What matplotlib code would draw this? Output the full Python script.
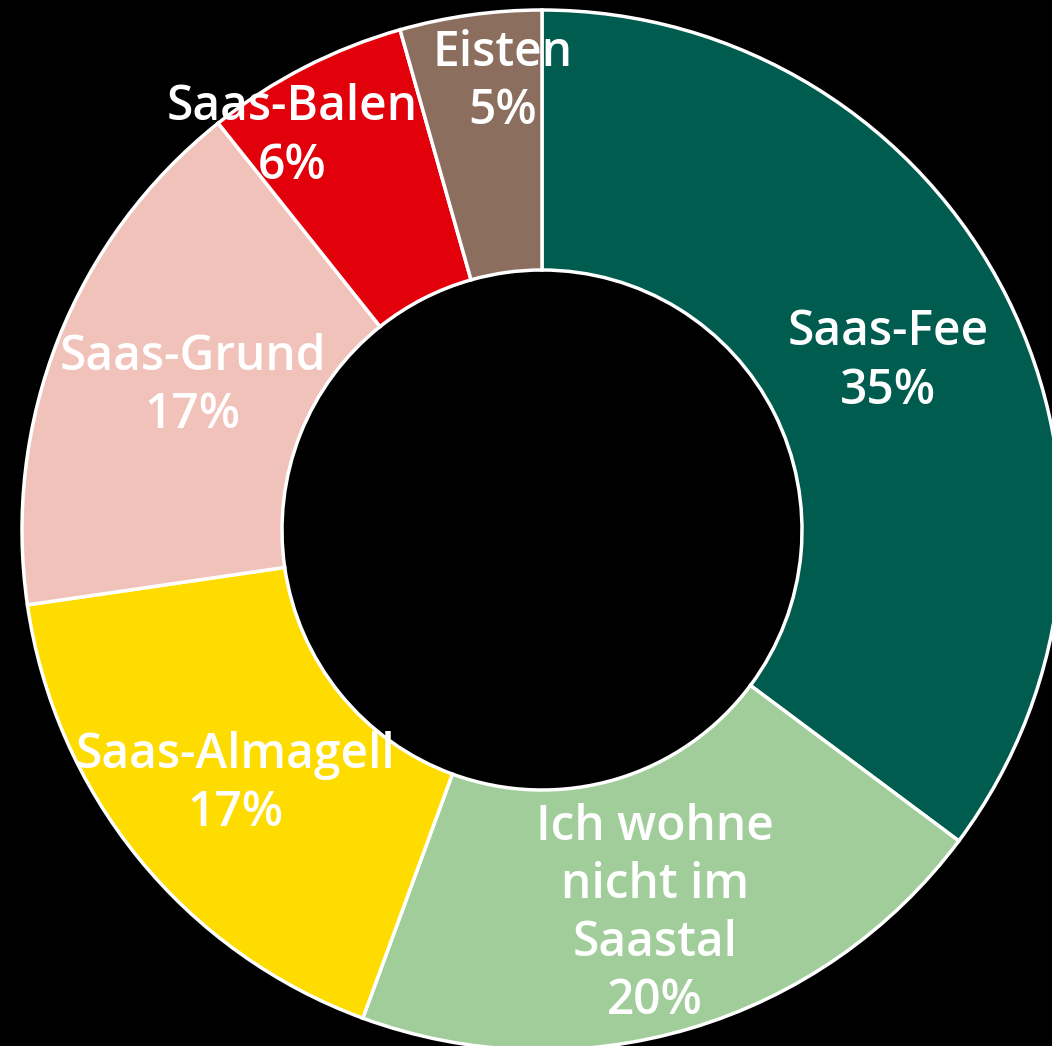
import numpy as np
import matplotlib.pyplot as plt

labels = ["Saas-Fee", "Ich wohne\nnicht im\nSaastal", "Saas-Almagell", "Saas-Grund", "Saas-Balen", "Eisten"]
shares = [35.2, 20.4, 17.1, 16.6, 6.3, 4.4]
pct_text = ["35%", "20%", "17%", "17%", "6%", "5%"]
colors = ["#005C4E", "#A0CD9A", "#FFDC00", "#F0C2BA", "#E2000B", "#8C6E5E"]
# label placement: radius and angular nudge (degrees) from the slice middle
label_r = [0.745, 0.76, 0.76, 0.73, 0.905, 0.875]
label_nudge = [0.0, 0.0, 0.0, 1.5, -4.9, 3.0]

fig = plt.figure(figsize=(10.52, 10.46), dpi=100, facecolor="black")
ax = fig.add_axes([0, 0, 1, 1])
ax.set_facecolor("black")

wedges, _ = ax.pie(shares, colors=colors, startangle=90, counterclock=False,
                   radius=1.0, wedgeprops=dict(width=0.5, edgecolor="white", linewidth=2.5))

cum = np.cumsum([0] + shares[:-1])
for i, lab in enumerate(labels):
    mid = (cum[i] + shares[i] / 2) / 100 * 360 + label_nudge[i]
    ang = np.deg2rad(90 - mid)
    x = label_r[i] * np.cos(ang)
    y = label_r[i] * np.sin(ang) - 0.011
    ax.text(x, y, lab + "\n" + pct_text[i], ha="center", va="center", color="white",
            fontsize=34.5, fontweight="semibold", family="Open Sans", linespacing=1.25)

ax.set_xlim(-542 / 520, (1052 - 542) / 520)
ax.set_ylim(-(1046 - 530) / 520, 530 / 520)
ax.set_aspect("equal")
ax.axis("off")

fig.savefig("out.png", dpi=100, facecolor="black")
